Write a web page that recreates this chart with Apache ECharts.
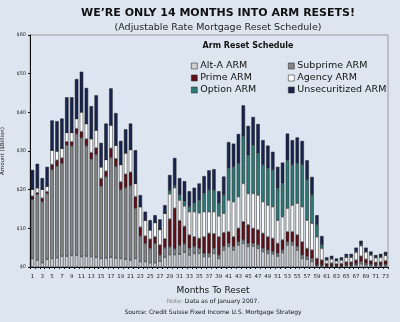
<!DOCTYPE html>
<html><head><meta charset="utf-8">
<script src="https://cdn.jsdelivr.net/npm/echarts@6/dist/echarts.min.js"></script>
<style>html,body{margin:0;padding:0;background:#dde6f0;}#c{width:400px;height:322px;}</style>
</head><body><div id="c"></div>
<script>
var months = [];
for (var m = 1; m <= 73; m++) months.push(String(m));
var seriesNames = ['Alt-A ARM','Subprime ARM','Prime ARM','Agency ARM','Option ARM','Unsecuritized ARM'];
var altA = [2.2,1.8,1.1,2.0,2.2,2.4,2.8,2.8,3.0,3.0,2.7,2.8,2.7,2.5,2.2,2.3,2.5,2.3,2.2,2.0,1.8,2.2,1.4,1.4,1.1,1.1,1.5,2.5,3.2,3.2,3.3,3.8,3.1,3.5,3.5,2.7,2.7,3.5,2.2,4.4,5.3,4.4,5.7,6.1,5.3,5.4,4.8,4.0,3.5,3.4,2.8,3.7,5.7,5.7,4.4,2.2,2.0,1.4,0.3,0.3,0.2,0.2,0.2,0.2,0.3,0.3,0.5,0.8,0.5,0.4,0.3,0.3,0.4];
var subprime = [15.3,17.0,15.8,17.0,23.0,23.7,24.0,28.7,28.3,31.4,30.7,28.5,25.2,26.6,18.7,21.0,25.8,23.7,17.8,18.5,19.2,13.0,6.6,4.7,3.7,5.0,1.6,2.5,2.0,1.5,2.3,2.2,1.7,1.8,1.3,0.8,0.8,1.3,0.9,0.9,0.8,0.9,0.8,0.9,0.8,0.7,0.9,0.8,0.9,0.6,0.7,0.7,0.8,0.8,0.9,0.9,0.7,0.8,0.2,0.2,0.1,0.1,0.1,0.1,0.2,0.2,0.3,0.6,0.4,0.3,0.2,0.2,0.3];
var prime = [0.8,0.4,0.9,0.5,1.3,1.5,1.4,0.9,1.1,1.4,1.6,1.8,1.7,1.7,2.0,1.5,2.4,2.0,2.0,3.5,3.5,3.0,2.3,1.9,2.4,1.7,2.6,2.3,7.2,10.5,6.4,4.5,3.5,2.5,2.6,4.3,5.2,3.8,4.7,3.6,3.0,2.5,3.5,4.7,4.8,3.9,3.9,3.9,3.4,3.4,2.6,2.6,2.6,2.6,3.0,3.4,2.1,2.2,1.7,1.3,0.6,0.7,0.5,0.6,0.8,0.8,1.0,1.4,1.1,0.9,0.7,0.8,0.9];
var agency = [1.8,1.3,2.3,1.4,3.7,2.4,2.5,2.4,2.4,2.6,5.1,4.0,3.6,4.6,3.0,3.0,6.0,3.5,4.5,5.5,5.9,3.4,5.3,4.1,2.4,3.7,4.0,6.6,6.5,5.3,5.3,5.3,6.0,6.5,6.6,6.5,5.6,5.7,5.4,5.0,8.2,9.1,8.2,9.9,8.1,9.0,9.0,8.2,8.2,8.2,6.0,6.0,6.1,6.9,8.2,9.1,7.3,6.9,5.6,3.0,0.9,1.1,0.8,0.9,1.2,1.2,2.0,2.7,1.9,1.5,1.2,1.2,1.4];
var option = [0,0,0,0,0,0,0,0,0,0,0,0,0,0,0,0,0,0,0,0,0,0,0,0,0,0,0,0,0.8,0.5,1.3,1.2,1.3,2.2,3.3,4.7,5.6,5.6,3.3,4.7,8.2,9.0,8.6,12.1,9.9,12.5,10.8,9.5,9.5,9.5,8.2,8.6,12.4,10.4,10.3,10.8,10.4,7.3,3.1,0.9,0.1,0.1,0.1,0.1,0.1,0.1,0.2,0.2,0.1,0.1,0.1,0.1,0.1];
var unsecuritized = [5.0,6.2,2.9,5.0,7.7,7.7,7.7,9.1,9.1,10.2,10.4,9.2,8.4,9.0,6.2,9.3,9.5,8.3,6.1,6.1,6.7,8.6,3.0,2.2,2.5,1.9,2.6,2.1,4.1,7.2,4.4,5.2,4.0,4.0,4.3,4.5,5.1,5.4,3.1,4.8,6.8,6.0,7.6,8.1,7.6,7.3,7.6,6.4,5.9,4.7,5.6,5.4,6.9,6.4,6.7,6.2,5.1,4.7,2.5,2.3,0.6,0.7,0.5,0.6,0.8,0.8,1.0,1.1,1.0,0.8,0.6,0.8,0.8];
var yTicks = [0,10,20,30,40,50,60];

var values = [altA, subprime, prime, agency, option, unsecuritized];
var colors = ['#cfcfd2','#858585','#5e0f17','#ffffff','#2b7a76','#17244f'];
var FONT = 'DejaVu Sans';

var chart = echarts.init(document.getElementById('c'), null, {renderer:'canvas'});
var series = seriesNames.map(function(n, i){
  return {
    name: n, type: 'bar', stack: 'arm', data: values[i],
    barWidth: '70%',
    itemStyle: {color: colors[i], borderColor: '#1b1b1b', borderWidth: 0.5},
    emphasis: {disabled: true}
  };
});
chart.setOption({
  backgroundColor: '#dde6f0',
  animation: false,
  title: [
    {text: 'WE\u2019RE ONLY 14 MONTHS INTO ARM RESETS!', left: 213, top: 3, textAlign: 'center',
     textStyle: {fontFamily: FONT, fontSize: 11, fontWeight: 'bold', color: '#111'}},
    {text: '(Adjustable Rate Mortgage Reset Schedule)', left: 213, top: 18, textAlign: 'center',
     textStyle: {fontFamily: FONT, fontSize: 9.5, fontWeight: 'normal', color: '#222'}},
    {text: 'Arm Reset Schedule', left: 243, top: 37, textAlign: 'center',
     textStyle: {fontFamily: FONT, fontSize: 8, fontWeight: 'bold', color: '#111'}},
    {text: 'Months To Reset', left: 208, top: 281, textAlign: 'center',
     textStyle: {fontFamily: FONT, fontSize: 9, fontWeight: 'normal', color: '#111'}},
    {text: '{g|Note:} Data as of January 2007.', left: 208, top: 293, textAlign: 'center',
     textStyle: {fontFamily: FONT, fontSize: 6, fontWeight: 'normal', color: '#111',
       rich: {g: {fontFamily: FONT, fontSize: 6, color: '#888'}}}},
    {text: 'Source: Credit Suisse Fixed Income U.S. Mortgage Strategy', left: 208, top: 304, textAlign: 'center',
     textStyle: {fontFamily: FONT, fontSize: 6, fontWeight: 'normal', color: '#111'}}
  ],
  legend: [
    {data: ['Alt-A ARM','Prime ARM','Option ARM'], orient: 'vertical', left: 186, top: 56,
     itemWidth: 6, itemHeight: 6, itemGap: 2, icon: 'rect',
     itemStyle: {borderColor: '#333', borderWidth: 0.6},
     textStyle: {fontFamily: FONT, fontSize: 9.5, color: '#111', padding: [0,0,0,-2], lineHeight: 9}},
    {data: ['Subprime ARM','Agency ARM','Unsecuritized ARM'], orient: 'vertical', left: 283, top: 56,
     itemWidth: 6, itemHeight: 6, itemGap: 2, icon: 'rect',
     itemStyle: {borderColor: '#333', borderWidth: 0.6},
     textStyle: {fontFamily: FONT, fontSize: 9.5, color: '#111', padding: [0,0,0,-2], lineHeight: 9}}
  ],
  grid: {left: 30, right: 12, top: 35, bottom: 55, containLabel: false, outerBoundsMode: 'none',
    show: true, borderColor: '#888', borderWidth: 0.8, backgroundColor: 'transparent'},
  xAxis: {
    type: 'category', data: months,
    axisLine: {lineStyle: {color: '#111', width: 1}},
    axisTick: {show: true, interval: 0, length: 2, lineStyle: {color: '#111'}},
    axisLabel: {interval: 1, fontFamily: FONT, fontSize: 5.5, color: '#222', margin: 7}
  },
  yAxis: {
    type: 'value', min: 0, max: 60, interval: 10,
    axisLine: {show: true, lineStyle: {color: '#111', width: 1}},
    axisTick: {show: true, length: 2, lineStyle: {color: '#111'}},
    splitLine: {show: false},
    axisLabel: {fontFamily: FONT, fontSize: 5, color: '#222', margin: 4,
      formatter: function(v){ return yTicks.indexOf(v) >= 0 ? '$' + v : ''; }},
    name: 'Amount ($Billion)', nameLocation: 'middle', nameGap: 19,
    nameTextStyle: {fontFamily: FONT, fontSize: 5.5, color: '#222'}
  },
  series: series
});
</script></body></html>
